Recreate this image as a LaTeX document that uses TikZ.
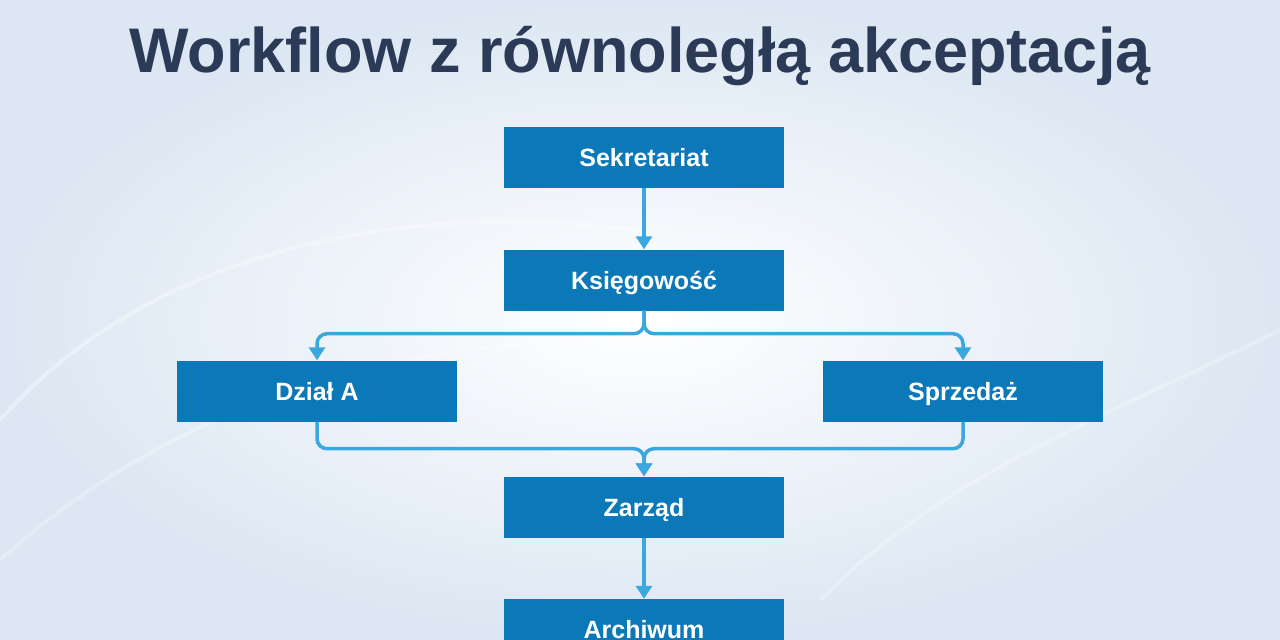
\documentclass[tikz,border=0pt]{standalone}
\usepackage{fontspec}
\setmainfont{Liberation Sans}
\usetikzlibrary{arrows.meta,positioning}
\definecolor{boxblue}{HTML}{0B78B8}
\definecolor{lineblue}{HTML}{3AA7DE}
\definecolor{titlenavy}{HTML}{2A3A57}
\definecolor{bgedge}{HTML}{DCE7F3}
\tikzset{
	stage/.style={fill=boxblue, text=white, inner sep=0pt,
		minimum width=280pt, minimum height=61pt,
		text height=18pt, text depth=0pt,
		font=\fontsize{25}{30}\selectfont\bfseries},
	flow/.style={draw=lineblue, line width=3.5pt, rounded corners=10pt,
		-{Triangle[width=16pt,length=13pt]}},
	swirl/.style={draw=white, opacity=.35, line width=4pt},
}

\begin{document}
\begin{tikzpicture}[x=1pt, y=-1pt]
	\useasboundingbox (0,0) rectangle (1280,640);
	\clip (0,0) rectangle (1280,640);
	% background
	\shade[inner color=white, outer color=bgedge] (0,0) rectangle (1280,640);
	\draw[swirl] (0,420) .. controls (150,250) and (400,200) .. (640,230);
	\draw[swirl, opacity=.25] (0,560) .. controls (200,380) and (450,330) .. (700,340);
	\draw[swirl, opacity=.25] (1280,330) .. controls (1100,420) and (950,470) .. (820,600);
	\node[text=titlenavy, font=\fontsize{63}{70}\selectfont\bfseries, anchor=base] (title) at (640,72) {Workflow z równoległą akceptacją};
	% stages
	\node[stage] (sek) at (644,157.5) {Sekretariat};
	\node[stage] (ksi) at (644,280) {Księgowość};
	\node[stage] (dza) at (317,391) {Dział A};
	\node[stage] (spr) at (963,391) {Sprzedaż};
	\node[stage] (zar) at (644,507) {Zarząd};
	\node[stage] (arc) at (644,629.5) {Archiwum};
	% connectors
	\draw[flow] (sek.south) -- (ksi.north);
	\draw[flow] (ksi.south) -- ++(0,23) -| (dza.north);
	\draw[flow] (ksi.south) -- ++(0,23) -| (spr.north);
	\draw[flow] (dza.south) -- ++(0,27) -| (zar.north);
	\draw[flow] (spr.south) -- ++(0,27) -| (zar.north);
	\draw[flow] (zar.south) -- (arc.north);
\end{tikzpicture}
\end{document}
